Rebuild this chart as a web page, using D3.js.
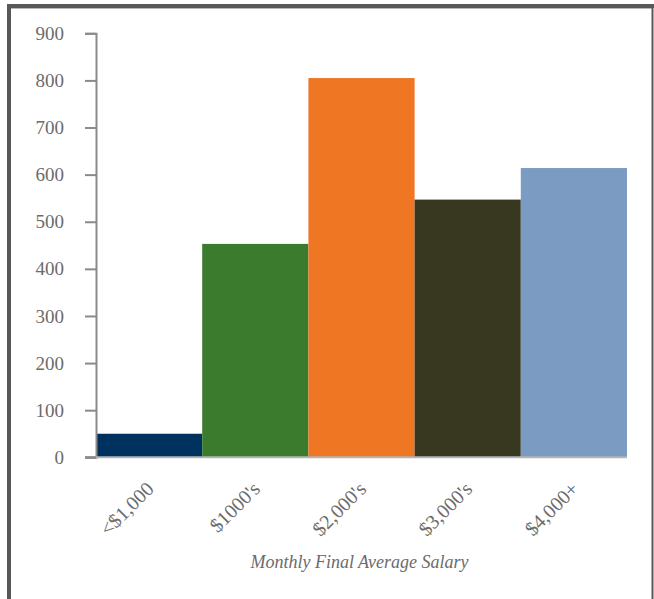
<!DOCTYPE html>
<html>
<head>
<meta charset="utf-8">
<script src="https://cdn.jsdelivr.net/npm/d3@7"></script>
<style>
  html, body { margin: 0; padding: 0; background: #fff; }
  svg { display: block; }
</style>
</head>
<body>
<svg id="chart" width="654" height="599"></svg>
<script>
// Members by monthly final average salary
const categories = ["<$1,000", "$1000's", "$2,000's", "$3,000's", "$4,000+"];
const values = [50, 453, 805, 547, 614];
const barColors = ["#00325f", "#3a7b2d", "#ef7623", "#37381f", "#7b9bc2"];
const yTicks = [0, 100, 200, 300, 400, 500, 600, 700, 800, 900];
const xTitle = "Monthly Final Average Salary";

const svg = d3.select("#chart");
const W = 654, H = 599;
const margin = { left: 96, right: 27, top: 33.3, bottom: 141.7 };
const plotBottom = H - margin.bottom;

// outer frame
svg.append("rect").attr("x", 0).attr("y", 0).attr("width", W).attr("height", H).attr("fill", "#fff");
svg.append("rect").attr("x", 7).attr("y", 4).attr("width", W - 7).attr("height", 4).attr("fill", "#58585a");
svg.append("rect").attr("x", 11).attr("y", 8).attr("width", W - 13).attr("height", 1).attr("fill", "#b8b8b8");
svg.append("rect").attr("x", 7).attr("y", 4).attr("width", 4).attr("height", H - 4).attr("fill", "#58585a");
svg.append("rect").attr("x", 651.5).attr("y", 4).attr("width", 2).attr("height", H - 4).attr("fill", "#58585a");

const x = d3.scaleBand().domain(categories).range([margin.left, W - margin.right]).padding(0);
const y = d3.scaleLinear().domain([0, 900]).range([plotBottom, margin.top]);

// bars
svg.append("g").selectAll("rect").data(categories).join("rect")
  .attr("x", d => x(d))
  .attr("width", x.bandwidth())
  .attr("y", (d, i) => y(values[i]))
  .attr("height", (d, i) => y(0) - y(values[i]))
  .attr("fill", (d, i) => barColors[i]);

const fontFam = "Liberation Serif, Times New Roman, serif";

// y axis
const yAxis = svg.append("g").attr("transform", `translate(${margin.left},0)`)
  .call(d3.axisLeft(y).tickValues(yTicks).tickSize(11).tickPadding(21).tickFormat(d3.format("d")));
yAxis.select(".domain").attr("stroke", "#8a8a8a").attr("stroke-width", 2);
yAxis.selectAll(".tick line").attr("stroke", "#8a8a8a").attr("stroke-width", 2);
yAxis.selectAll(".tick text")
  .attr("fill", "#6b6b6b")
  .style("font-family", fontFam)
  .style("font-size", "19px");

// x axis baseline
svg.append("line")
  .attr("x1", margin.left - 11).attr("x2", W - margin.right)
  .attr("y1", y(0)).attr("y2", y(0))
  .attr("stroke", "#b5b5b5").attr("stroke-width", 2);
svg.append("line")
  .attr("x1", margin.left - 11).attr("x2", margin.left)
  .attr("y1", y(0)).attr("y2", y(0))
  .attr("stroke", "#8a8a8a").attr("stroke-width", 2);

// rotated category labels
svg.append("g").selectAll("text").data(categories).join("text")
  .attr("transform", d => `translate(${x(d) + x.bandwidth() / 2 - 4},${y(0) + 23}) rotate(-45)`)
  .attr("text-anchor", "end")
  .attr("dy", "0.7em")
  .attr("fill", "#6b6b6b")
  .style("font-family", fontFam)
  .style("font-size", "20px")
  .text(d => d);

// axis title
svg.append("text")
  .attr("x", (margin.left + W - margin.right) / 2 - 2)
  .attr("y", 568)
  .attr("text-anchor", "middle")
  .attr("fill", "#6b6b6b")
  .style("font-family", fontFam)
  .style("font-style", "italic")
  .style("font-size", "18px")
  .text(xTitle);
</script>
</body>
</html>
